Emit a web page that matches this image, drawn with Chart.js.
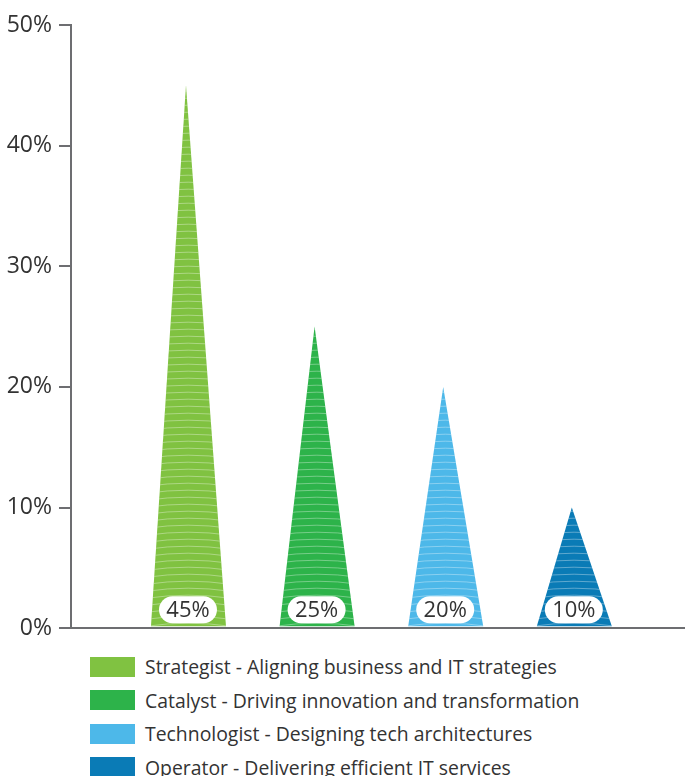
<!DOCTYPE html>
<html>
<head>
<meta charset="utf-8">
<script src="https://cdn.jsdelivr.net/npm/chart.js@4.4.0/dist/chart.umd.min.js"></script>
<style>
  html, body { margin: 0; padding: 0; background: #fff; }
  #wrap { width: 685px; height: 649px; }
  #legend { list-style: none; margin: 1px 0 0 0; padding: 0 0 0 90px;
            font-family: 'Open Sans', sans-serif; font-size: 19.4px; color: #333; }
  #legend li { display: flex; align-items: center; height: 33.5px; white-space: nowrap; }
  #legend .box { display: inline-block; flex: none; width: 45px; height: 20px; margin-right: 10px; }
</style>
</head>
<body>
<div id="wrap"><canvas id="roles" width="685" height="649"></canvas></div>
<ul id="legend"></ul>
<script>
// Role mix
var categories = [
    "Strategist - Aligning business and IT strategies",
    "Catalyst - Driving innovation and transformation",
    "Technologist - Designing tech architectures",
    "Operator - Delivering efficient IT services"
];
var shares = [45, 25, 20, 10];
var colors = ["#80c241", "#2db34a", "#4db8e9", "#0a7bb6"];
var yTicks = [0, 10, 20, 30, 40, 50];

var axisGray = "#6d6e71";
var textGray = "#333333";

// legend
var legend = document.getElementById("legend");
for (var i in categories) {
    var li = document.createElement("li");
    var box = document.createElement("span");
    box.className = "box";
    box.style.background = colors[i];
    li.appendChild(box);
    li.appendChild(document.createTextNode(categories[i]));
    legend.appendChild(li);
}

var points = shares.map(function(v, i) { return { x: i + 1, y: v }; });

// draw each bar as a spike with faint curved stripes and a value pill
var spikePlugin = {
    id: "spikes",
    afterDatasetsDraw: function(chart) {
        var c = chart.ctx;
        var meta = chart.getDatasetMeta(0);
        meta.data.forEach(function(bar, i) {
            var half = bar.width / 2;
            var left = bar.x - half + 2.5;
            var right = bar.x + half + 2.5;

            c.save();
            c.beginPath();
            c.moveTo(bar.x, bar.y);
            c.lineTo(right, bar.base - 1);
            c.lineTo(left, bar.base - 1);
            c.closePath();
            c.fillStyle = colors[i];
            c.fill();
            c.clip();

            c.strokeStyle = "rgba(255,255,255,0.35)";
            c.lineWidth = 1;
            for (var y = bar.base - 4; y > bar.y; y -= 7) {
                c.beginPath();
                c.moveTo(left - 4, y + 3);
                c.quadraticCurveTo(bar.x + 2, y - 3, right + 4, y + 3);
                c.stroke();
            }
            c.restore();

            var pw = 58, ph = 27;
            var cx = bar.x + 2;
            var cy = bar.base - 17.5;
            c.save();
            c.beginPath();
            c.roundRect(cx - pw / 2, cy - ph / 2, pw, ph, ph / 2);
            c.fillStyle = "#ffffff";
            c.fill();
            c.fillStyle = textGray;
            c.font = "22px 'Open Sans'";
            c.textAlign = "center";
            c.textBaseline = "middle";
            c.fillText(shares[i] + "%", cx, cy + 1);
            c.restore();
        });
    }
};

var ctx = document.getElementById("roles");
var chart = new Chart(ctx, {
    type: "bar",
    data: {
        datasets: [{
            data: points,
            backgroundColor: "rgba(0,0,0,0)",
            borderWidth: 0,
            barThickness: 75
        }]
    },
    options: {
        responsive: false,
        animation: false,
        layout: { padding: { top: 25, left: 0, right: 0, bottom: 0 } },
        plugins: {
            legend: { display: false },
            tooltip: { enabled: false }
        },
        scales: {
            x: {
                type: "linear",
                offset: false,
                min: 0.106,
                max: 4.88,
                ticks: { display: false },
                grid: { display: false, drawTicks: false, offset: false },
                border: { color: axisGray, width: 2 }
            },
            y: {
                min: 0,
                max: 50,
                afterBuildTicks: function(scale) {
                    scale.ticks = yTicks.map(function(v) { return { value: v }; });
                },
                afterFit: function(scale) { scale.width = 71; },
                ticks: {
                    callback: function(v) { return v + "%"; },
                    color: textGray,
                    padding: 7,
                    font: { family: "'Open Sans'", size: 23 }
                },
                grid: { drawOnChartArea: false, tickLength: 12, color: axisGray, lineWidth: 2 },
                border: { color: axisGray, width: 2 }
            }
        }
    },
    plugins: [spikePlugin]
});
</script>
</body>
</html>
